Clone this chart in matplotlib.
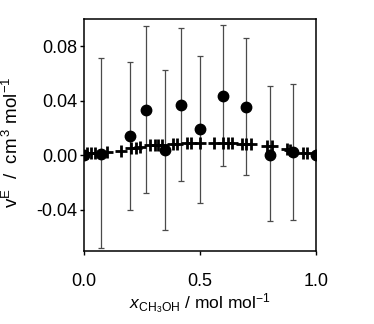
import numpy as np
import matplotlib; matplotlib.use("Agg")
import matplotlib.pyplot as plt

plt.rcParams["font.family"] = "Liberation Sans"
plt.rcParams["mathtext.fontset"] = "custom"
plt.rcParams["mathtext.rm"] = "Liberation Sans"
plt.rcParams["mathtext.it"] = "Liberation Sans:italic"

# measured points with error bars
x_meas = [0.0, 0.075, 0.2, 0.27, 0.35, 0.42, 0.5, 0.6, 0.7, 0.8, 0.9, 1.0]
v_meas = [0.0, 0.0013, 0.0139, 0.0336, 0.0037, 0.0368, 0.019, 0.0439, 0.0356, 0.0005, 0.0022, 0.0]
err_hi = [0.0, 0.0712, 0.0683, 0.095, 0.0627, 0.0934, 0.0729, 0.0958, 0.0858, 0.051, 0.0522, 0.0]
err_lo = [0.0, -0.0677, -0.040, -0.0275, -0.0548, -0.019, -0.0348, -0.008, -0.0146, -0.0485, -0.0475, 0.0]

# literature values (crosses)
x_lit = [0.013, 0.03, 0.05, 0.10, 0.16, 0.205, 0.225, 0.24, 0.285, 0.305, 0.32, 0.335,
         0.385, 0.40, 0.445, 0.46, 0.50, 0.56, 0.60, 0.62, 0.64, 0.68, 0.70, 0.72,
         0.79, 0.81, 0.875, 0.89, 0.945, 0.96]
v_lit = [0.0015, 0.0017, 0.0019, 0.0025, 0.0035, 0.0052, 0.0055, 0.0058, 0.0075, 0.0077, 0.0078, 0.0078,
         0.0085, 0.0086, 0.0088, 0.0088, 0.0088, 0.0090, 0.0091, 0.0090, 0.0090, 0.0086, 0.0084, 0.0082,
         0.0072, 0.0068, 0.0045, 0.0040, 0.0020, 0.0017]

v = np.array(v_meas)
yerr = [v - np.array(err_lo), np.array(err_hi) - v]

fig = plt.figure(figsize=(3.74, 3.24), dpi=100)
ax = fig.add_axes([0.224, 0.226, 0.621, 0.715])

ax.errorbar(x_meas, v_meas, yerr=yerr, fmt="none", ecolor="#4a4a4a", elinewidth=0.9,
            capsize=2.2, capthick=0.9, zorder=2)
ax.plot(x_lit, v_lit, "+", color="black", ms=8, mew=2.0, zorder=3)
ax.plot(x_meas, v_meas, "o", color="black", ms=7.5, zorder=4)

ax.set_xlim(0, 1)
ax.set_ylim(-0.07, 0.1)
ax.set_xticks([0.0, 0.5, 1.0])
ax.set_xticklabels(["0.0", "0.5", "1.0"])
ax.set_yticks([-0.04, 0.0, 0.04, 0.08])
ax.set_yticklabels(["-0.04", "0.00", "0.04", "0.08"])
ax.tick_params(axis="x", direction="out", length=3, width=1, labelsize=13, pad=13)
ax.tick_params(axis="y", direction="out", length=3, width=1, labelsize=13, pad=1.5)
for s in ax.spines.values():
    s.set_linewidth(1.1)

ax.set_xlabel(r"$x_{\mathrm{CH_3OH}}$ / mol mol$^{-1}$", fontsize=12.5, labelpad=1)
ax.set_ylabel(r"v$^{\mathrm{E}}$  /  cm$^{\,3}$ mol$^{-1}$", fontsize=13.5)
ax.yaxis.set_label_coords(-0.265, 0.47)

fig.savefig("out.png", facecolor="white")
